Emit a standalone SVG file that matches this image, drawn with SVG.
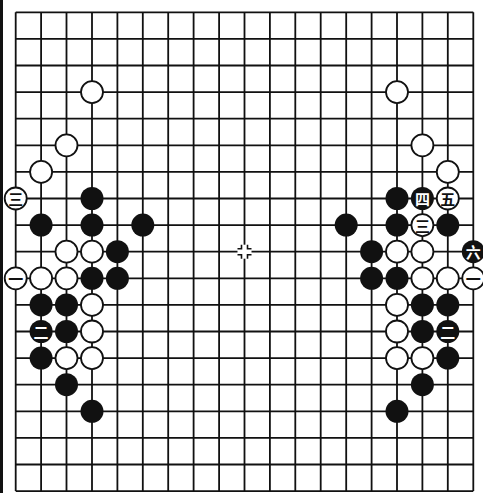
<svg xmlns="http://www.w3.org/2000/svg" width="483" height="493" viewBox="0 0 483 493">
<style>
.grid{stroke:#111;stroke-width:1.8;fill:none}
.b{fill:#111}
.w{fill:#fff;stroke:#111;stroke-width:1.8}
.t{font-family:"Noto Sans CJK SC","Noto Sans CJK JP",sans-serif;font-size:15px;font-weight:bold;text-anchor:middle;dominant-baseline:central}
.tw{fill:#111}
.tb{fill:#fff}
</style>
<defs>
<circle id="bs" r="11.5" class="b"/>
<circle id="ws" r="11" class="w"/>
</defs>
<rect width="483" height="493" fill="#fff"/>
<rect x="0" y="0" width="3" height="493" fill="#111"/>
<g id="board" class="grid">
<path d="M15.7 12.3V491.1M41.1 12.3V491.1M66.5 12.3V491.1M92 12.3V491.1M117.4 12.3V491.1M142.8 12.3V491.1M168.2 12.3V491.1M193.6 12.3V491.1M219.1 12.3V491.1M244.5 12.3V491.1M269.9 12.3V491.1M295.3 12.3V491.1M320.7 12.3V491.1M346.2 12.3V491.1M371.6 12.3V491.1M397 12.3V491.1M422.4 12.3V491.1M447.8 12.3V491.1M473.3 12.3V491.1"/>
<path d="M15.7 12.3H473.3M15.7 38.9H473.3M15.7 65.5H473.3M15.7 92.1H473.3M15.7 118.7H473.3M15.7 145.3H473.3M15.7 171.9H473.3M15.7 198.5H473.3M15.7 225.1H473.3M15.7 251.7H473.3M15.7 278.3H473.3M15.7 304.9H473.3M15.7 331.5H473.3M15.7 358.1H473.3M15.7 384.7H473.3M15.7 411.3H473.3M15.7 437.9H473.3M15.7 464.5H473.3M15.7 491.1H473.3"/>
</g>
<g id="tengen">
<rect x="237.5" y="244.7" width="14" height="14" fill="#fff"/>
<path d="M237.5 248.7h4v-4M251.5 248.7h-4v-4M237.5 254.7h4v4M251.5 254.7h-4v4" stroke="#111" stroke-width="1.6" fill="none"/>
</g>
<g id="left-stones">
<g id="L-w-3-3"><use href="#ws" x="92" y="92.1"/></g>
<g id="L-w-2-5"><use href="#ws" x="66.5" y="145.3"/></g>
<g id="L-w-1-6"><use href="#ws" x="41.1" y="171.9"/></g>
<g id="L-w-0-7"><use href="#ws" x="15.7" y="198.5"/><text class="t tw" x="15.7" y="198.5">三</text></g>
<g id="L-b-3-7"><use href="#bs" x="92" y="198.5"/></g>
<g id="L-b-1-8"><use href="#bs" x="41.1" y="225.1"/></g>
<g id="L-b-3-8"><use href="#bs" x="92" y="225.1"/></g>
<g id="L-b-5-8"><use href="#bs" x="142.8" y="225.1"/></g>
<g id="L-w-2-9"><use href="#ws" x="66.5" y="251.7"/></g>
<g id="L-w-3-9"><use href="#ws" x="92" y="251.7"/></g>
<g id="L-b-4-9"><use href="#bs" x="117.4" y="251.7"/></g>
<g id="L-w-0-10"><use href="#ws" x="15.7" y="278.3"/><text class="t tw" x="15.7" y="278.3">一</text></g>
<g id="L-w-1-10"><use href="#ws" x="41.1" y="278.3"/></g>
<g id="L-w-2-10"><use href="#ws" x="66.5" y="278.3"/></g>
<g id="L-b-3-10"><use href="#bs" x="92" y="278.3"/></g>
<g id="L-b-4-10"><use href="#bs" x="117.4" y="278.3"/></g>
<g id="L-b-1-11"><use href="#bs" x="41.1" y="304.9"/></g>
<g id="L-b-2-11"><use href="#bs" x="66.5" y="304.9"/></g>
<g id="L-w-3-11"><use href="#ws" x="92" y="304.9"/></g>
<g id="L-b-1-12"><use href="#bs" x="41.1" y="331.5"/><text class="t tb" x="41.1" y="331.5">二</text></g>
<g id="L-b-2-12"><use href="#bs" x="66.5" y="331.5"/></g>
<g id="L-w-3-12"><use href="#ws" x="92" y="331.5"/></g>
<g id="L-b-1-13"><use href="#bs" x="41.1" y="358.1"/></g>
<g id="L-w-2-13"><use href="#ws" x="66.5" y="358.1"/></g>
<g id="L-w-3-13"><use href="#ws" x="92" y="358.1"/></g>
<g id="L-b-2-14"><use href="#bs" x="66.5" y="384.7"/></g>
<g id="L-b-3-15"><use href="#bs" x="92" y="411.3"/></g>
</g>
<g id="right-stones">
<g id="R-w-15-3"><use href="#ws" x="397" y="92.1"/></g>
<g id="R-w-16-5"><use href="#ws" x="422.4" y="145.3"/></g>
<g id="R-w-17-6"><use href="#ws" x="447.8" y="171.9"/></g>
<g id="R-b-15-7"><use href="#bs" x="397" y="198.5"/></g>
<g id="R-b-16-7"><use href="#bs" x="422.4" y="198.5"/><text class="t tb" x="422.4" y="198.5">四</text></g>
<g id="R-w-17-7"><use href="#ws" x="447.8" y="198.5"/><text class="t tw" x="447.8" y="198.5">五</text></g>
<g id="R-b-13-8"><use href="#bs" x="346.2" y="225.1"/></g>
<g id="R-b-15-8"><use href="#bs" x="397" y="225.1"/></g>
<g id="R-w-16-8"><use href="#ws" x="422.4" y="225.1"/><text class="t tw" x="422.4" y="225.1">三</text></g>
<g id="R-b-17-8"><use href="#bs" x="447.8" y="225.1"/></g>
<g id="R-b-14-9"><use href="#bs" x="371.6" y="251.7"/></g>
<g id="R-w-15-9"><use href="#ws" x="397" y="251.7"/></g>
<g id="R-w-16-9"><use href="#ws" x="422.4" y="251.7"/></g>
<g id="R-b-18-9"><use href="#bs" x="473.3" y="251.7"/><text class="t tb" x="473.3" y="251.7">六</text></g>
<g id="R-b-14-10"><use href="#bs" x="371.6" y="278.3"/></g>
<g id="R-b-15-10"><use href="#bs" x="397" y="278.3"/></g>
<g id="R-w-16-10"><use href="#ws" x="422.4" y="278.3"/></g>
<g id="R-w-17-10"><use href="#ws" x="447.8" y="278.3"/></g>
<g id="R-w-18-10"><use href="#ws" x="473.3" y="278.3"/><text class="t tw" x="473.3" y="278.3">一</text></g>
<g id="R-w-15-11"><use href="#ws" x="397" y="304.9"/></g>
<g id="R-b-16-11"><use href="#bs" x="422.4" y="304.9"/></g>
<g id="R-b-17-11"><use href="#bs" x="447.8" y="304.9"/></g>
<g id="R-w-15-12"><use href="#ws" x="397" y="331.5"/></g>
<g id="R-b-16-12"><use href="#bs" x="422.4" y="331.5"/></g>
<g id="R-b-17-12"><use href="#bs" x="447.8" y="331.5"/><text class="t tb" x="447.8" y="331.5">二</text></g>
<g id="R-w-15-13"><use href="#ws" x="397" y="358.1"/></g>
<g id="R-w-16-13"><use href="#ws" x="422.4" y="358.1"/></g>
<g id="R-b-17-13"><use href="#bs" x="447.8" y="358.1"/></g>
<g id="R-b-16-14"><use href="#bs" x="422.4" y="384.7"/></g>
<g id="R-b-15-15"><use href="#bs" x="397" y="411.3"/></g>
</g>
</svg>
